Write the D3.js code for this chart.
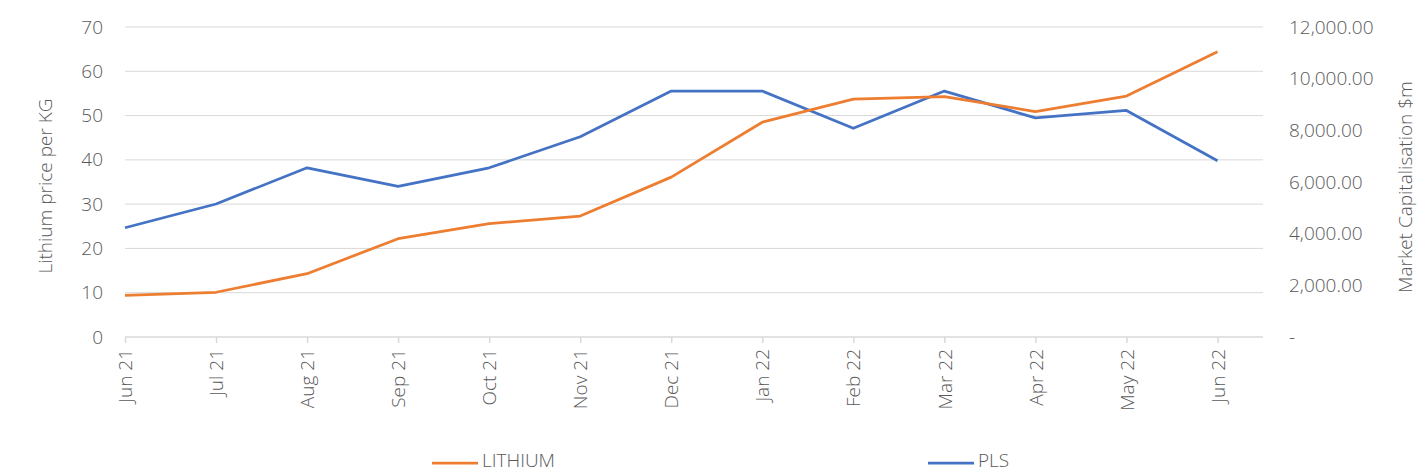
<!DOCTYPE html>
<html>
<head>
<meta charset="utf-8">
<script src="https://cdn.jsdelivr.net/npm/d3@7"></script>
<style>
body { margin: 0; background: #fff; }
text { font-family: "Open Sans", sans-serif; font-weight: 300; fill: #595959; }
</style>
</head>
<body>
<div id="chart"></div>
<script>
var width = 1419,
	height = 473;

var months = ["Jun 21","Jul 21","Aug 21","Sep 21","Oct 21","Nov 21","Dec 21","Jan 22","Feb 22","Mar 22","Apr 22","May 22","Jun 22"];
var lithium = [9.4, 10.1, 14.3, 22.2, 25.6, 27.3, 36.1, 48.5, 53.7, 54.3, 50.9, 54.4, 64.4];
var pls = [4230, 5150, 6550, 5830, 6550, 7750, 9520, 9520, 8080, 9520, 8480, 8770, 6820];
var leftTicks = [0, 10, 20, 30, 40, 50, 60, 70];
var rightTicks = [0, 2000, 4000, 6000, 8000, 10000, 12000];

var margin = {left: 125, right: 156, top: 27, bottom: 136};
var plotRight = width - margin.right;
var plotBottom = height - margin.bottom;

var svg = d3.select("#chart").append("svg")
	.attr("width", width)
	.attr("height", height)

var x = d3.scalePoint()
	.domain(months)
	.range([margin.left, plotRight - 45.5])

var yLeft = d3.scaleLinear()
	.domain([0, 70])
	.range([plotBottom, margin.top])

var yRight = d3.scaleLinear()
	.domain([0, 12000])
	.range([plotBottom, margin.top])

// gridlines
svg.append("g")
	.selectAll("line")
	.data(leftTicks.slice(1))
	.enter()
	.append("line")
	.attr("x1", margin.left)
	.attr("x2", plotRight)
	.attr("y1", function(d){ return yLeft(d); })
	.attr("y2", function(d){ return yLeft(d); })
	.attr("stroke", "#d9d9d9")
	.attr("stroke-width", 1)

// x axis
var xAxis = svg.append("g")
	.attr("transform", "translate(0," + plotBottom + ")")
	.call(d3.axisBottom(x).tickSize(6).tickSizeOuter(0))
xAxis.select(".domain").remove()
xAxis.append("line")
	.attr("x1", margin.left)
	.attr("x2", plotRight)
	.attr("stroke", "#d9d9d9")
	.attr("stroke-width", 1.5)
xAxis.selectAll(".tick line").attr("stroke", "#d9d9d9").attr("stroke-width", 1.5)
xAxis.selectAll(".tick text")
	.attr("font-size", 19)
	.attr("transform", "rotate(-90)")
	.attr("text-anchor", "end")
	.attr("x", -12)
	.attr("y", 0)
	.attr("dy", "0.35em")
	.style("fill", "#595959")

// left axis
var leftAxis = svg.append("g")
	.attr("transform", "translate(" + (margin.left - 22) + ",0)")
	.call(d3.axisLeft(yLeft).tickValues(leftTicks).tickSize(0))
leftAxis.select(".domain").remove()
leftAxis.selectAll("text").attr("font-size", 19).attr("x", 0).style("fill", "#595959")

// right axis
var rightAxis = svg.append("g")
	.attr("transform", "translate(" + (plotRight + 26) + ",0)")
	.call(d3.axisRight(yRight).tickValues(rightTicks).tickSize(0)
		.tickFormat(function(d){ return d === 0 ? "-" : d3.format(",.2f")(d); }))
rightAxis.select(".domain").remove()
rightAxis.selectAll("text").attr("font-size", 19).attr("x", 0).style("fill", "#595959")

// axis titles
var midY = (margin.top + plotBottom) / 2;
svg.append("text")
	.attr("transform", "translate(45," + (midY + 4) + ") rotate(-90)")
	.attr("text-anchor", "middle")
	.attr("dy", "0.35em")
	.attr("font-size", 19)
	.text("Lithium price per KG")

svg.append("text")
	.attr("transform", "translate(1405," + (midY + 5) + ") rotate(-90)")
	.attr("text-anchor", "middle")
	.attr("dy", "0.35em")
	.attr("font-size", 19)
	.text("Market Capitalisation $m")

// lines
var lineLeft = d3.line()
	.x(function(d, i){ return x(months[i]); })
	.y(function(d){ return yLeft(d); })

var lineRight = d3.line()
	.x(function(d, i){ return x(months[i]); })
	.y(function(d){ return yRight(d); })

svg.append("path")
	.datum(pls)
	.attr("d", lineRight)
	.attr("fill", "none")
	.attr("stroke", "#4472C4")
	.attr("stroke-width", 2.75)
	.attr("stroke-linejoin", "round")

svg.append("path")
	.datum(lithium)
	.attr("d", lineLeft)
	.attr("fill", "none")
	.attr("stroke", "#ED7D31")
	.attr("stroke-width", 2.75)
	.attr("stroke-linejoin", "round")

// legend
var legend = [
	{name: "LITHIUM", color: "#ED7D31", x: 432},
	{name: "PLS", color: "#4472C4", x: 928}
];
var lg = svg.selectAll(".legend")
	.data(legend)
	.enter()
	.append("g")
	.attr("transform", function(d){ return "translate(" + d.x + ",461)"; })
lg.append("line")
	.attr("x1", 0)
	.attr("x2", 46)
	.attr("y1", 2)
	.attr("y2", 2)
	.attr("stroke", function(d){ return d.color; })
	.attr("stroke-width", 2.75)
lg.append("text")
	.attr("x", 50)
	.attr("dy", "0.3em")
	.attr("font-size", 19)
	.text(function(d){ return d.name; })
</script>
</body>
</html>
